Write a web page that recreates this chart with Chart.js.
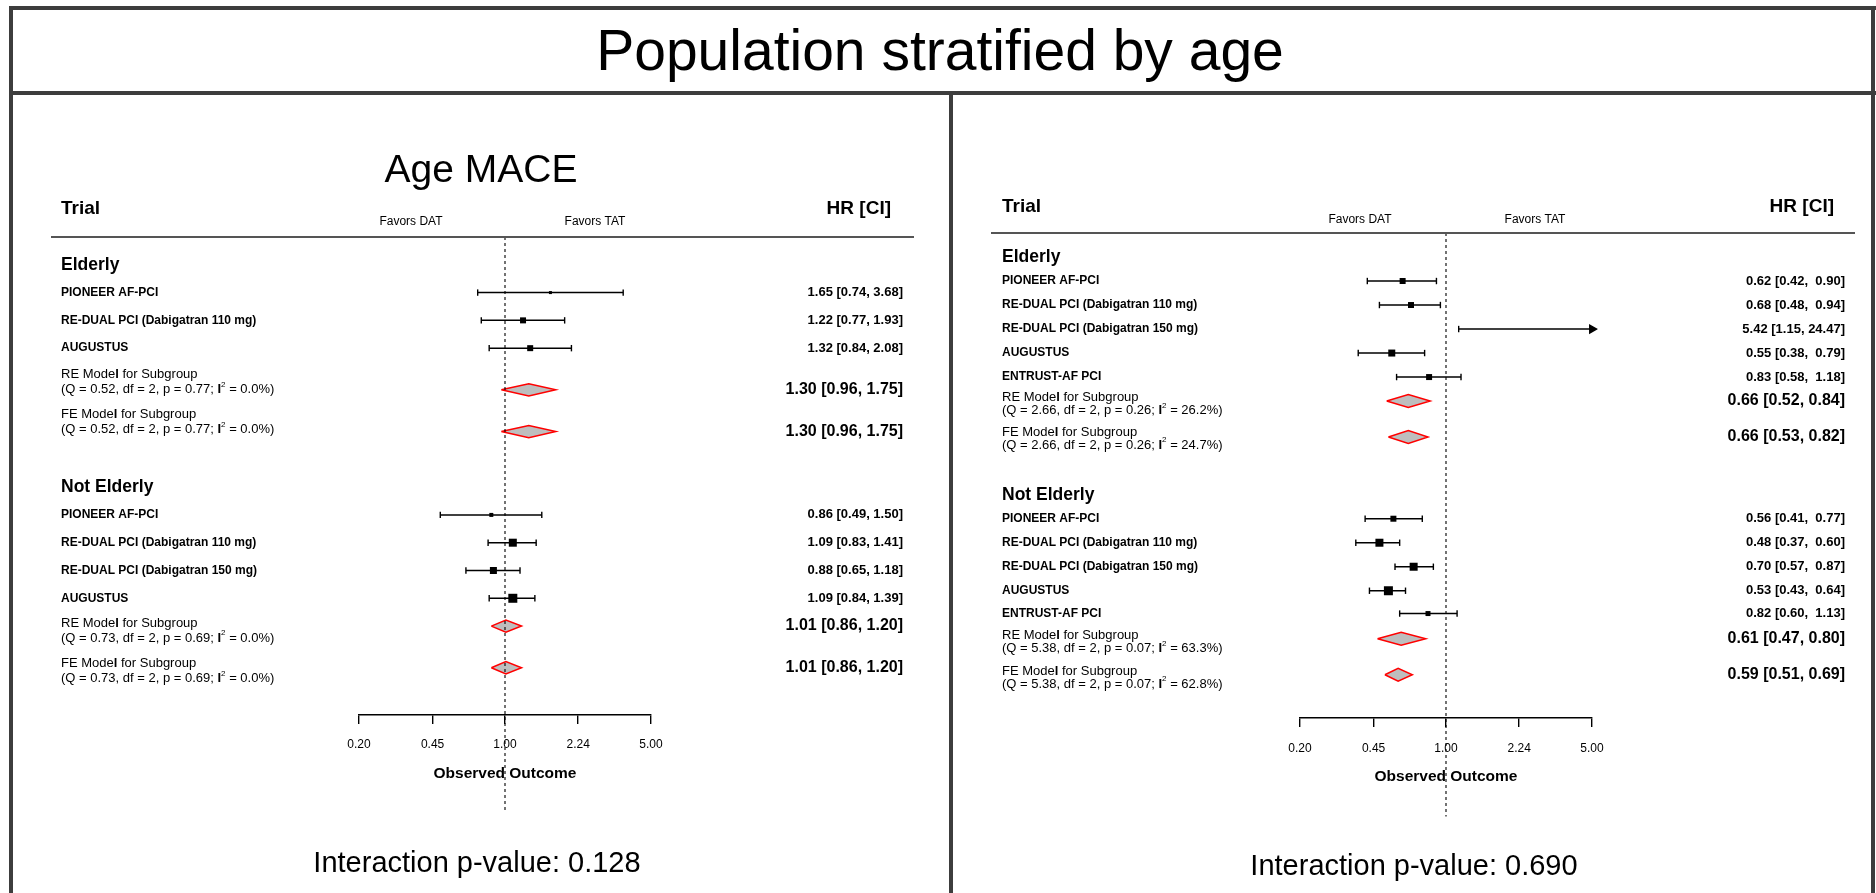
<!DOCTYPE html>
<html>
<head>
<meta charset="utf-8">
<title>Population stratified by age</title>
<script src="https://cdn.jsdelivr.net/npm/chart.js@4.4.1/dist/chart.umd.min.js"></script>
<style>
  html, body { margin: 0; padding: 0; background: #fff; }
  #page { position: relative; width: 1876px; height: 893px; overflow: hidden; background: #fff;
          font-family: "Liberation Sans", Arial, sans-serif; color: #000; }
  .rule { position: absolute; background: #3d3d3d; }
  .txt { position: absolute; white-space: nowrap; line-height: 1; transform: translate(-50%, -50%); }
  canvas { position: absolute; left: 0; top: 0; }
</style>
</head>
<body>
<div id="page">
  <canvas id="ageLeft" width="1876" height="893"></canvas>
  <canvas id="ageRight" width="1876" height="893"></canvas>

  <div class="rule" style="left:9px;top:6px;width:1867px;height:4px"></div>
  <div class="rule" style="left:9px;top:6px;width:4px;height:887px"></div>
  <div class="rule" style="left:1871px;top:6px;width:4px;height:887px"></div>
  <div class="rule" style="left:9px;top:91px;width:1867px;height:4px"></div>
  <div class="rule" style="left:949px;top:91px;width:4px;height:802px"></div>

  <div class="txt" style="left:940px;top:50px;font-size:57px">Population stratified by age</div>
  <div class="txt" style="left:481px;top:168px;font-size:39px">Age MACE</div>
  <div class="txt" id="pLeft" style="left:477px;top:862px;font-size:29px"></div>
  <div class="txt" id="pRight" style="left:1414px;top:865px;font-size:29px"></div>
</div>

<script>
// ---------- data ----------
var groups = ['Elderly', 'Not Elderly'];
var xTicks = [0.2, 0.45, 1, 2.24, 5];
var xTickLabels = ['0.20', '0.45', '1.00', '2.24', '5.00'];

// left panel : Age MACE
var leftTrial = ['PIONEER AF-PCI', 'RE-DUAL PCI (Dabigatran 110 mg)', 'AUGUSTUS',
                 'PIONEER AF-PCI', 'RE-DUAL PCI (Dabigatran 110 mg)', 'RE-DUAL PCI (Dabigatran 150 mg)', 'AUGUSTUS'];
var leftGroup = [0, 0, 0, 1, 1, 1, 1];
var leftHR = [1.65, 1.22, 1.32, 0.86, 1.09, 0.88, 1.09];
var leftLo = [0.74, 0.77, 0.84, 0.49, 0.83, 0.65, 0.84];
var leftHi = [3.68, 1.93, 2.08, 1.50, 1.41, 1.18, 1.39];

var leftModel = ['RE', 'FE', 'RE', 'FE'];
var leftModelHR = [1.30, 1.30, 1.01, 1.01];
var leftModelLo = [0.96, 0.96, 0.86, 0.86];
var leftModelHi = [1.75, 1.75, 1.20, 1.20];
var leftQ = [0.52, 0.52, 0.73, 0.73];
var leftDf = [2, 2, 2, 2];
var leftP = [0.77, 0.77, 0.69, 0.69];
var leftI2 = [0.0, 0.0, 0.0, 0.0];
var leftInteraction = 0.128;

// right panel
var rightTrial = ['PIONEER AF-PCI', 'RE-DUAL PCI (Dabigatran 110 mg)', 'RE-DUAL PCI (Dabigatran 150 mg)', 'AUGUSTUS', 'ENTRUST-AF PCI',
                  'PIONEER AF-PCI', 'RE-DUAL PCI (Dabigatran 110 mg)', 'RE-DUAL PCI (Dabigatran 150 mg)', 'AUGUSTUS', 'ENTRUST-AF PCI'];
var rightGroup = [0, 0, 0, 0, 0, 1, 1, 1, 1, 1];
var rightHR = [0.62, 0.68, 5.42, 0.55, 0.83, 0.56, 0.48, 0.70, 0.53, 0.82];
var rightLo = [0.42, 0.48, 1.15, 0.38, 0.58, 0.41, 0.37, 0.57, 0.43, 0.60];
var rightHi = [0.90, 0.94, 24.47, 0.79, 1.18, 0.77, 0.60, 0.87, 0.64, 1.13];

var rightModel = ['RE', 'FE', 'RE', 'FE'];
var rightModelHR = [0.66, 0.66, 0.61, 0.59];
var rightModelLo = [0.52, 0.53, 0.47, 0.51];
var rightModelHi = [0.84, 0.82, 0.80, 0.69];
var rightQ = [2.66, 2.66, 5.38, 5.38];
var rightDf = [2, 2, 2, 2];
var rightP = [0.26, 0.26, 0.07, 0.07];
var rightI2 = [26.2, 24.7, 63.3, 62.8];
var rightInteraction = 0.690;

// ---------- layout (row units, box sides in px) ----------
var leftGroupRow = [1, 9];
var leftTrialRow = [2, 3, 4, 10, 11, 12, 13];
var leftModelRow = [5.5, 7, 14, 15.5];
var leftModelTextRow = [4.95, 6.4, 13.9, 15.35];
var leftBox = [3, 6, 6, 4, 8, 7, 9];

var rightGroupRow = [1, 10.9];
var rightTrialRow = [2, 3, 4, 5, 6, 11.9, 12.9, 13.9, 14.9, 15.85];
var rightModelRow = [7, 8.5, 16.9, 18.4];
var rightModelTextRow = [6.85, 8.3, 16.77, 18.25];
var rightBox = [6, 6, 3, 7, 6, 6, 8, 8, 9, 5];

var FONT = '"Liberation Sans", Arial, sans-serif';
var xMin = 0.2, xMax = 5;

function f2(v) { return v.toFixed(2); }

function say(ctx, str, x, y, size, weight, align) {
  ctx.font = weight + ' ' + size + 'px ' + FONT;
  ctx.textAlign = align;
  ctx.fillText(str, x, y);
}

// two line model label, with a bold I and a superscript 2
function modelLabel(ctx, x, y, gap, name, q, df, p, i2) {
  var cx = x, cy = y;
  function seg(s, size, weight, dy) {
    ctx.font = weight + ' ' + size + 'px ' + FONT;
    ctx.textAlign = 'left';
    ctx.fillText(s, cx, cy + dy);
    cx += ctx.measureText(s).width;
  }
  seg(name + ' Mode', 13, 'normal', 0);
  seg('l', 13, 'bold', 0);
  seg(' for Subgroup', 13, 'normal', 0);
  cx = x; cy = y + gap;
  seg('(Q = ' + f2(q) + ', df = ' + df + ', p = ' + f2(p) + '; ', 13, 'normal', 0);
  seg('I', 13, 'bold', 0);
  seg('2', 8, 'normal', -5);
  seg(' = ' + i2.toFixed(1) + '%)', 13, 'normal', 0);
}

function textPlugin(P) {
  return {
    id: 'forestText',
    afterDraw: function(chart) {
      var ctx = chart.ctx, ys = chart.scales.y, top = chart.chartArea.top;
      ctx.save();
      ctx.fillStyle = '#000';
      ctx.textBaseline = 'middle';

      say(ctx, 'Trial', P.labelX, P.headY, 19, 'bold', 'left');
      say(ctx, 'HR [CI]', P.hrX, P.headY, 19, 'bold', 'right');
      say(ctx, 'Favors DAT', P.datX, P.favY, 12, 'normal', 'center');
      say(ctx, 'Favors TAT', P.tatX, P.favY, 12, 'normal', 'center');

      ctx.strokeStyle = '#555';
      ctx.lineWidth = 2;
      ctx.beginPath();
      ctx.moveTo(P.ruleL, top);
      ctx.lineTo(P.ruleR, top);
      ctx.stroke();

      groups.forEach(function(g, k) {
        say(ctx, g, P.labelX, ys.getPixelForValue(P.groupRow[k]), 17.5, 'bold', 'left');
      });

      var hiLen = Math.max.apply(null, P.hi.map(function(v) { return f2(v).length; }));
      P.trial.forEach(function(name, i) {
        var y = ys.getPixelForValue(P.trialRow[i]);
        say(ctx, name, P.labelX, y, 12, 'bold', 'left');
        var s = f2(P.hr[i]) + ' [' + f2(P.lo[i]) + ', ' + f2(P.hi[i]).padStart(hiLen, ' ') + ']';
        say(ctx, s, P.valueX, y, 13, 'bold', 'right');
      });

      P.model.forEach(function(m, i) {
        modelLabel(ctx, P.labelX, ys.getPixelForValue(P.modelTextRow[i]), P.lineGap, m, P.q[i], P.df[i], P.p[i], P.i2[i]);
        var s = f2(P.mHR[i]) + ' [' + f2(P.mLo[i]) + ', ' + f2(P.mHi[i]) + ']';
        say(ctx, s, P.valueX, ys.getPixelForValue(P.modelRow[i]), 16, 'bold', 'right');
      });
      ctx.restore();
    }
  };
}

function forestChart(id, P) {
  var datasets = [];

  // reference line at HR = 1
  datasets.push({
    type: 'line', data: [{x: 1, y: 0}, {x: 1, y: P.refEnd}],
    borderColor: '#000', borderWidth: 1.1, borderDash: [3, 3], pointRadius: 0, clip: false
  });

  // confidence intervals (arrow when cut by the axis)
  P.hr.forEach(function(hr, i) {
    var cut = P.hi[i] > xMax;
    var r = P.trialRow[i];
    datasets.push({
      type: 'line',
      data: [{x: P.lo[i], y: r}, {x: Math.min(P.hi[i], xMax), y: r}],
      borderColor: '#000', borderWidth: 1.5,
      pointStyle: ['line', cut ? 'triangle' : 'line'], pointRotation: 90,
      pointRadius: [3.2, cut ? 4.5 : 3.2],
      pointBorderColor: '#000', pointBackgroundColor: '#000', pointBorderWidth: 1.4,
      fill: false, clip: false
    });
  });

  // point estimates
  var sq = [], sqR = [];
  P.hr.forEach(function(hr, i) {
    if (hr > xMax) return;
    sq.push({x: hr, y: P.trialRow[i]});
    sqR.push(P.box[i] / Math.SQRT2);
  });
  datasets.push({
    type: 'scatter', data: sq, pointStyle: 'rect', pointRadius: sqR,
    backgroundColor: '#000', borderColor: '#000', borderWidth: 0
  });

  // summary diamonds
  P.mHR.forEach(function(m, i) {
    var r = P.modelRow[i], h = P.diamondH;
    datasets.push({
      type: 'line',
      data: [{x: P.mLo[i], y: r}, {x: m, y: r - h}, {x: P.mHi[i], y: r}, {x: m, y: r + h}, {x: P.mLo[i], y: r}],
      borderColor: '#ff0000', borderWidth: 1.5, backgroundColor: '#bebebe',
      fill: 'shape', pointRadius: 0, tension: 0
    });
  });

  return new Chart(document.getElementById(id), {
    type: 'scatter',
    data: { datasets: datasets },
    plugins: [textPlugin(P)],
    options: {
      responsive: false,
      animation: false,
      devicePixelRatio: 1,
      events: [],
      layout: { padding: P.pad },
      plugins: { legend: { display: false }, tooltip: { enabled: false } },
      scales: {
        x: {
          type: 'logarithmic', position: 'bottom', min: xMin, max: xMax,
          afterBuildTicks: function(s) { s.ticks = xTicks.map(function(v) { return {value: v}; }); },
          afterFit: function(s) { s.height = 69; },
          ticks: {
            autoSkip: false, maxRotation: 0, padding: P.tickPad, color: '#000',
            font: { family: FONT, size: 12 },
            callback: function(v, i) { return xTickLabels[i]; }
          },
          grid: { drawOnChartArea: false, drawTicks: true, tickLength: 9, color: '#000', lineWidth: 1.4 },
          border: { display: true, color: '#000', width: 1.4 },
          title: {
            display: true, text: 'Observed Outcome', color: '#000',
            font: { family: FONT, size: 15.5, weight: 'bold' }, padding: { top: 0, bottom: 1 }
          }
        },
        y: { type: 'linear', reverse: true, min: 0, max: P.yMax, display: false }
      }
    }
  });
}

forestChart('ageLeft', {
  trial: leftTrial, hr: leftHR, lo: leftLo, hi: leftHi,
  model: leftModel, mHR: leftModelHR, mLo: leftModelLo, mHi: leftModelHi,
  q: leftQ, df: leftDf, p: leftP, i2: leftI2,
  groupRow: leftGroupRow, trialRow: leftTrialRow, modelRow: leftModelRow, modelTextRow: leftModelTextRow,
  box: leftBox, diamondH: 0.22, yMax: 17.2, refEnd: 20.7, lineGap: 15,
  pad: { left: 359, right: 1225, top: 237, bottom: 109 }, tickPad: 13,
  labelX: 61, valueX: 903, hrX: 891, headY: 209, favY: 222, datX: 411, tatX: 595, ruleL: 51, ruleR: 914
});

forestChart('ageRight', {
  trial: rightTrial, hr: rightHR, lo: rightLo, hi: rightHi,
  model: rightModel, mHR: rightModelHR, mLo: rightModelLo, mHi: rightModelHi,
  q: rightQ, df: rightDf, p: rightP, i2: rightI2,
  groupRow: rightGroupRow, trialRow: rightTrialRow, modelRow: rightModelRow, modelTextRow: rightModelTextRow,
  box: rightBox, diamondH: 0.27, yMax: 20.2, refEnd: 24.3, lineGap: 13,
  pad: { left: 1300, right: 284, top: 233, bottom: 106 }, tickPad: 14,
  labelX: 1002, valueX: 1845, hrX: 1834, headY: 207, favY: 220, datX: 1360, tatX: 1535, ruleL: 991, ruleR: 1855
});

document.getElementById('pLeft').textContent = 'Interaction p-value: ' + leftInteraction.toFixed(3);
document.getElementById('pRight').textContent = 'Interaction p-value: ' + rightInteraction.toFixed(3);
</script>
</body>
</html>
